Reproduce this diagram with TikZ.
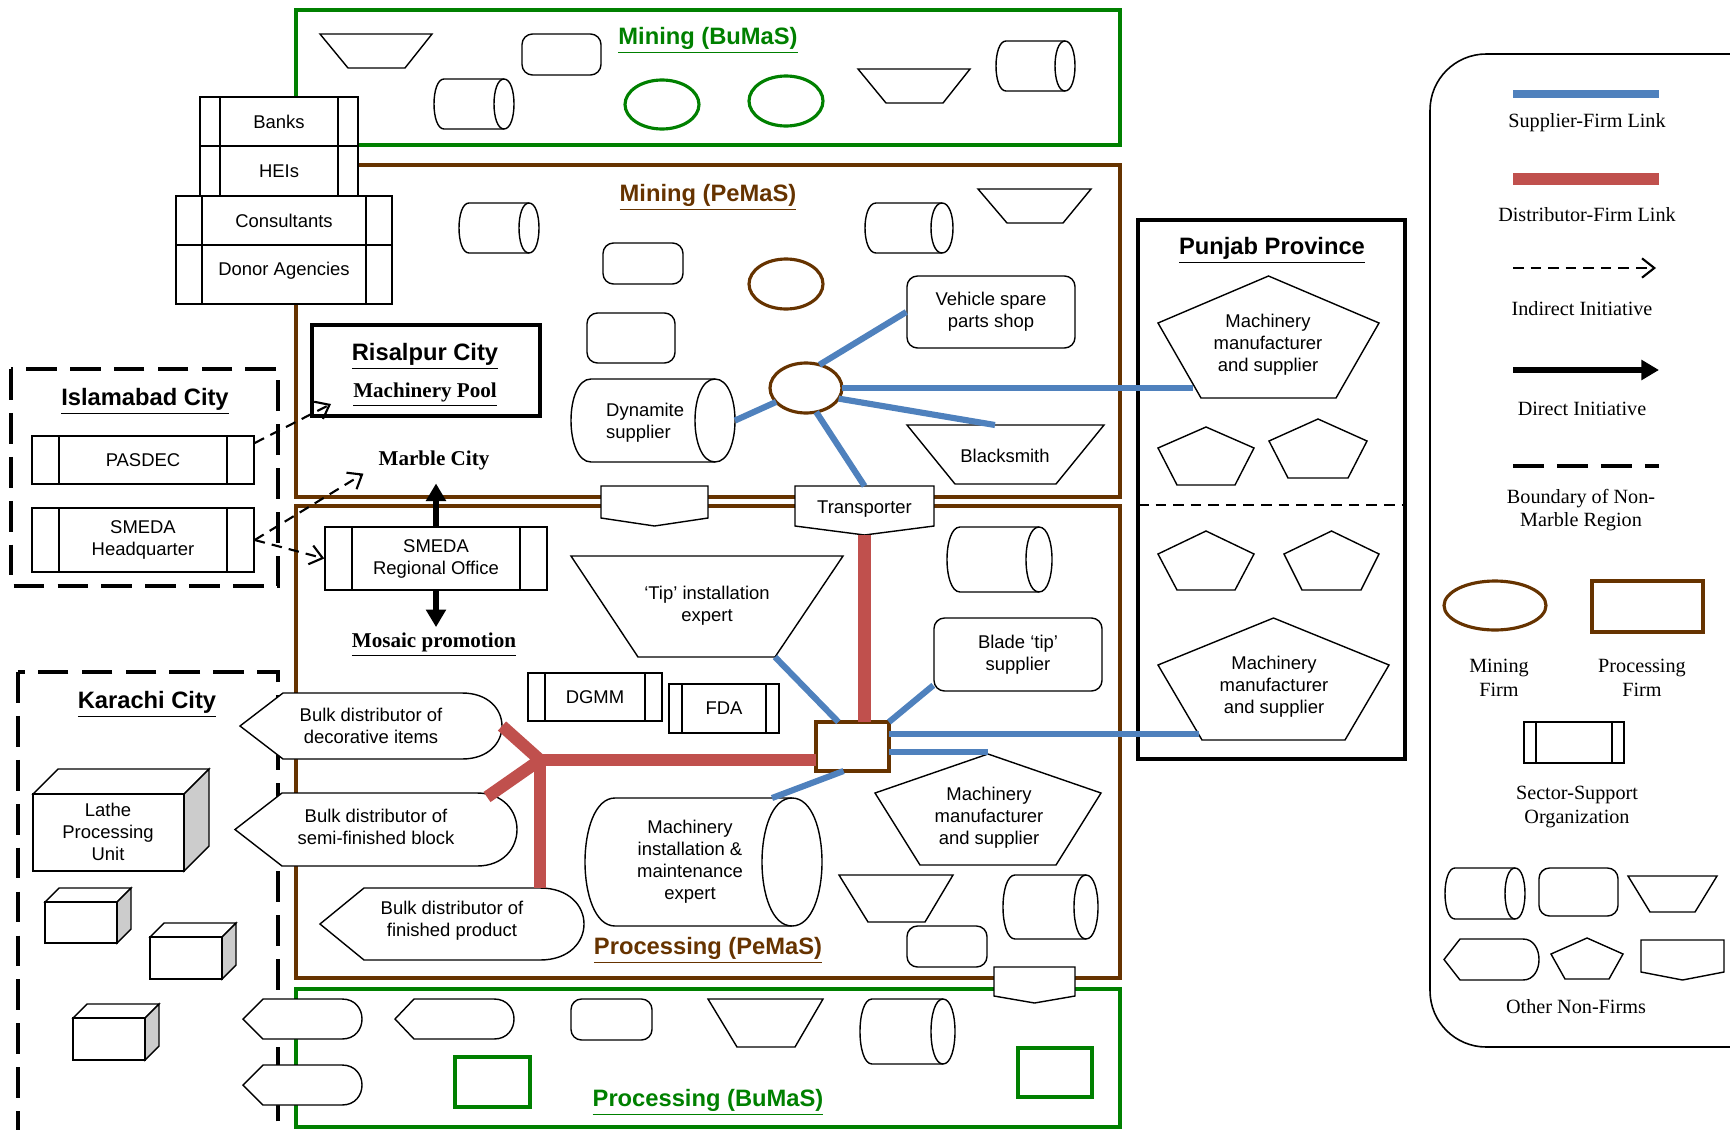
\documentclass[tikz,border=0pt]{standalone}
\usepackage{fontspec}
\setmainfont{Liberation Serif}
\setsansfont{Liberation Sans}
\usetikzlibrary{calc,arrows.meta,shapes.geometric}
\definecolor{bumas}{RGB}{0,128,0}
\definecolor{pemas}{RGB}{102,51,0}
\definecolor{linkblue}{RGB}{79,129,189}
\definecolor{linkred}{RGB}{192,80,77}
\definecolor{cubegray}{RGB}{204,204,204}
\tikzset{
  shp/.style={draw=black,line width=0.8pt,fill=white},
  hold/.style={inner sep=0pt,outer sep=0pt},
  lbl/.style={font=\sffamily\fontsize{10.5}{12.5}\selectfont,align=center},
  keytxt/.style={font=\fontsize{11.5}{13.5}\selectfont,align=center},
  ttl/.style={font=\sffamily\bfseries\fontsize{13.5}{16}\selectfont,yshift=-2.5pt},
  stxt/.style={font=\bfseries\fontsize{12}{14}\selectfont,yshift=-1.5pt},
  region/.style={line width=2pt},
  firm/.style={draw=pemas,line width=1.8pt},
  supl/.style={linkblue,line width=3.5pt},
  distl/.style={linkred,line width=7pt},
  indir/.style={line width=1.2pt,dash pattern=on 6pt off 4pt,-{Straight Barb[length=7pt,width=11pt]}},
  dirl/.style={line width=3.2pt,-{Triangle[length=10pt,width=11pt]}},
  nonmarble/.style={line width=2.2pt,dash pattern=on 17.5pt off 7.5pt},
}
% shapes: name, then corners in pixel units
\newcommand{\cylshape}[6]{%
  \draw[shp] ({#2+#6},#3) -- ({#4-#6},#3) .. controls ({#4+#6/3},#3) and ({#4+#6/3},#5) .. ({#4-#6},#5)
    -- ({#2+#6},#5) .. controls ({#2-#6/3},#5) and ({#2-#6/3},#3) .. ({#2+#6},#3) -- cycle;
  \draw[shp,fill=none] ({#4-#6},#3) .. controls ({#4-#6*7/3},#3) and ({#4-#6*7/3},#5) .. ({#4-#6},#5);
  \node[hold,minimum width={(#4-#2)*0.02cm},minimum height={(#5-#3)*0.02cm}] (#1) at ({(#2+#4)/2},{(#3+#5)/2}) {};}
\newcommand{\trapshape}[7]{%
  \draw[shp] (#2,#4) -- (#3,#4) -- (#6,#7) -- (#5,#7) -- cycle;
  \node[hold,minimum width={(#3-#2)*0.02cm},minimum height={(#7-#4)*0.02cm}] (#1) at ({(#2+#3)/2},{(#4+#7)/2}) {};}
\newcommand{\pentshape}[7]{%
  \draw[shp] ({(#2+#3)/2},#4) -- (#3,#5) -- ({#3-#6},#7) -- ({#2+#6},#7) -- (#2,#5) -- cycle;
  \node[hold,minimum width={(#3-#2)*0.02cm},minimum height={(#7-#4)*0.02cm}] (#1) at ({(#2+#3)/2},{(#4+#7)/2}) {};}
\newcommand{\dispshape}[7]{%
  \draw[shp] (#2,{(#5+#6)/2}) -- (#3,#5) -- ({#4-#7},#5) .. controls ({#4+#7/3},#5) and ({#4+#7/3},#6) .. ({#4-#7},#6) -- (#3,#6) -- cycle;
  \node[hold,minimum width={(#4-#2)*0.02cm},minimum height={(#6-#5)*0.02cm}] (#1) at ({(#2+#4)/2},{(#5+#6)/2}) {};}
\newcommand{\offshape}[6]{%
  \draw[shp] (#2,#4) -- (#3,#4) -- (#3,#5) -- ({(#2+#3)/2},#6) -- (#2,#5) -- cycle;
  \node[hold,minimum width={(#3-#2)*0.02cm},minimum height={(#6-#4)*0.02cm}] (#1) at ({(#2+#3)/2},{(#4+#6)/2}) {};}
\newcommand{\ssoshape}[7]{%
  \node[shp,lbl,inner sep=0pt,minimum width={(#4-#2)*0.02cm},minimum height={(#5-#3)*0.02cm}] (#1) at ({(#2+#4)/2},{(#3+#5)/2}) {#7};
  \draw[line width=0.8pt] ({#2+#6},#3) -- ({#2+#6},#5) ({#4-#6},#3) -- ({#4-#6},#5);}
\newcommand{\rndshape}[6]{%
  \node[shp,lbl,rounded corners=6pt,inner sep=0pt,minimum width={(#4-#2)*0.02cm},minimum height={(#5-#3)*0.02cm}] (#1) at ({(#2+#4)/2},{(#3+#5)/2}) {#6};}
\newcommand{\cubeshape}[6]{%
  \draw[shp] (#2,#3) -- ({#2+#6},{#3-#6}) -- ({#4+#6},{#3-#6}) -- (#4,#3) -- cycle;
  \draw[shp,fill=cubegray] (#4,#3) -- ({#4+#6},{#3-#6}) -- ({#4+#6},{#5-#6}) -- (#4,#5) -- cycle;
  \node[shp,hold,minimum width={(#4-#2)*0.02cm},minimum height={(#5-#3)*0.02cm}] (#1) at ({(#2+#4)/2},{(#3+#5)/2}) {};}

\begin{document}
\begin{tikzpicture}[x=0.02cm,y=-0.02cm]
\useasboundingbox (0,0) rectangle (1730,1129);
\clip (0,0) rectangle (1730,1129);

% non-marble cities
\draw[nonmarble] (11,369) rectangle (278,586);
\draw[nonmarble] (18,672) rectangle (278,1140);

% clusters
\draw[region,bumas] (296,10) rectangle (1120,145);
\draw[region,pemas] (296,165) rectangle (1120,497);
\draw[region,pemas] (296,506) rectangle (1120,978);
\draw[region,bumas] (296,989) rectangle (1120,1127);

% Punjab and key frames
\draw[line width=2.2pt] (1138,220) rectangle (1405,759);
\draw[line width=1pt,dash pattern=on 6pt off 4pt] (1138,505) -- (1405,505);
\draw[line width=0.9pt,rounded corners=32pt] (1430,54) rectangle (1800,1047);

% Mining (BuMaS)
\node[ttl,text=bumas] (minbu) at (708,36) {\underline{Mining (BuMaS)}};
\trapshape{bt1}{320}{432}{34}{348}{405}{68}
\rndshape{br1}{522}{34}{601}{75}{}
\cylshape{bc1}{434}{79}{514}{129}{10}
\node[draw=bumas,line width=1.8pt,ellipse,hold,minimum width=1.48cm,minimum height=0.98cm] (bm1) at (662,104.5) {};
\node[draw=bumas,line width=1.8pt,ellipse,hold,minimum width=1.48cm,minimum height=1cm] (bm2) at (786,101) {};
\trapshape{bt2}{858}{970}{69}{886}{943}{103}
\cylshape{bc2}{996}{41}{1075}{91}{10}

% Mining (PeMaS)
\node[ttl,text=pemas] (minpe) at (708,193) {\underline{Mining (PeMaS)}};
\cylshape{pc1}{459}{203}{539}{253}{10}
\rndshape{pr1}{603}{243}{683}{284}{}
\rndshape{pr2}{587}{313}{675}{363}{}
\node[firm,ellipse,hold,minimum width=1.48cm,minimum height=1cm] (pm1) at (786,284) {};
\cylshape{pc2}{865}{203}{953}{253}{11}
\trapshape{pt1}{978}{1091}{189}{1007}{1063}{223}
\rndshape{vsp}{907}{276}{1075}{348}{Vehicle spare\\parts shop}
\cylshape{dyn}{571}{379}{735}{462}{20}
\node[lbl,align=left,anchor=west] (dyntxt) at (600,423) {Dynamite\\supplier};
\trapshape{smith}{907}{1104}{425}{955}{1056}{484}
\node[lbl] (smithtxt) at (1005,456) {Blacksmith};
\node[firm,fill=white,ellipse,hold,minimum width=1.44cm,minimum height=1cm] (mfirm) at (806,388) {};
\offshape{op1}{601}{708}{486}{518}{526}
\offshape{trans}{795}{934}{486}{526}{535}
\node[lbl] (transtxt) at (864.5,509) {Transporter};

% support organizations
\ssoshape{banks}{200}{97}{358}{146}{20}{Banks}
\ssoshape{heis}{200}{146}{358}{196}{20}{HEIs}
\ssoshape{cons}{176}{196}{392}{245}{26}{Consultants}
\ssoshape{donor}{176}{245}{392}{304}{26}{\raisebox{6pt}{Donor Agencies}}

% Risalpur, Islamabad, SMEDA
\node[draw,line width=2.2pt,hold,minimum width=4.56cm,minimum height=1.82cm] (risal) at (426,370.5) {};
\node[ttl] (risaltxt) at (425,352) {\underline{Risalpur City}};
\node[stxt] (pool) at (425,392) {\underline{Machinery Pool}};
\node[ttl] (isb) at (145,397) {\underline{Islamabad City}};
\ssoshape{pasdec}{32}{436}{254}{484}{27}{PASDEC}
\ssoshape{smhq}{32}{508}{254}{572}{27}{SMEDA\\Headquarter}
\node[stxt] (marble) at (434,458) {Marble City};
\ssoshape{smro}{325}{527}{547}{590}{27}{SMEDA\\Regional Office}
\node[stxt] (mosaic) at (434,642) {\underline{Mosaic promotion}};

% Karachi
\node[ttl] (khi) at (147,700) {\underline{Karachi City}};
\cubeshape{lathe}{33}{794}{184}{871}{25}
\node[lbl] (lathetxt) at (108,832) {Lathe\\Processing\\Unit};
\cubeshape{cb1}{45}{902}{117}{943}{14}
\cubeshape{cb2}{150}{937}{222}{979}{14}
\cubeshape{cb3}{73}{1018}{145}{1060}{14}

% Processing (PeMaS)
\dispshape{deco}{240}{283}{502}{693}{759}{40}
\node[lbl] (decotxt) at (371,726) {Bulk distributor of\\decorative items};
\dispshape{semi}{235}{282}{517}{793}{866}{40}
\node[lbl] (semitxt) at (376,827) {Bulk distributor of\\semi-finished block};
\dispshape{fin}{320}{364}{584}{888}{960}{44}
\node[lbl] (fintxt) at (452,921) {Bulk distributor of\\finished product};
\cylshape{qc1}{947}{527}{1052}{592}{13}
\trapshape{tip}{571}{843}{556}{638}{775}{657}
\node[lbl] (tiptxt) at (707,606) {‘Tip’ installation\\expert};
\rndshape{blade}{934}{618}{1102}{691}{Blade ‘tip’\\supplier}
\ssoshape{dgmm}{528}{673}{662}{721}{17}{DGMM}
\ssoshape{fda}{669}{684}{779}{733}{13}{FDA}
\node[firm,fill=white,hold,minimum width=1.46cm,minimum height=0.98cm] (hub) at (852.5,746.5) {};
\cylshape{mie}{585}{798}{822}{926}{30}
\node[lbl] (mietxt) at (690,862) {Machinery\\installation \&\\maintenance\\expert};
\pentshape{mmb}{875}{1101}{754}{793}{45}{865}
\node[lbl] (mmbtxt) at (989,818) {Machinery\\manufacturer\\and supplier};
\trapshape{qt1}{839}{953}{875}{868}{925}{922}
\cylshape{qc2}{1003}{875}{1098}{939}{12}
\rndshape{qr1}{907}{926}{987}{967}{}
\offshape{op2}{994}{1075}{967}{996}{1003}
\node[ttl,text=pemas] (prope) at (708,946) {\underline{Processing (PeMaS)}};

% Processing (BuMaS)
\dispshape{bd1}{243}{263}{362}{999}{1039}{20}
\dispshape{bd2}{395}{414}{514}{999}{1039}{20}
\dispshape{bd3}{243}{263}{362}{1065}{1105}{20}
\rndshape{br2}{571}{999}{652}{1040}{}
\trapshape{bt3}{708}{823}{999}{737}{795}{1047}
\cylshape{bc3}{860}{999}{955}{1064}{12}
\draw[region,bumas] (455,1057) rectangle (530,1107);
\draw[region,bumas] (1018,1048) rectangle (1092,1097);
\node[ttl,text=bumas] (probu) at (708,1098) {\underline{Processing (BuMaS)}};

% Punjab
\node[ttl] (punjab) at (1272,246) {\underline{Punjab Province}};
\pentshape{pja}{1158}{1379}{276}{323}{43}{398}
\node[lbl] (pjatxt) at (1268,345) {Machinery\\manufacturer\\and supplier};
\pentshape{pjs1}{1158}{1254}{427}{448}{19}{485}
\pentshape{pjs2}{1269}{1367}{419}{441}{19}{478}
\pentshape{pjs3}{1158}{1254}{531}{554}{19}{590}
\pentshape{pjs4}{1284}{1379}{531}{554}{18}{590}
\pentshape{pjb}{1158}{1389}{618}{665}{44}{740}
\node[lbl] (pjbtxt) at (1274,687) {Machinery\\manufacturer\\and supplier};

% links
\coordinate (pjain) at (1193,388);
\coordinate (pjbin) at (1199,734);
\coordinate (mmbtop) at (988,752);
\coordinate (mietop) at (772,798);
\coordinate (semiin) at (487,797);
\coordinate (J) at (540,760);
\draw[supl] (mfirm.60) -- (vsp.west);
\draw[supl] (mfirm.east) -- (pjain);
\draw[supl] (mfirm.-18) -- ([xshift=-6pt]smith.north);
\draw[supl] (mfirm.-67) -- (trans.north);
\draw[supl] (dyn.east) -- (mfirm.205);
\draw[supl] ($(tip.south)!0.5!(tip.south east)$) -- (hub.120);
\draw[supl] (blade.200) -- (hub.north east);
\draw[supl] (pjbin -| hub.east) -- (pjbin);
\draw[supl] (mmbtop -| hub.east) -- (mmbtop);
\draw[supl] (hub.-110) -- (mietop);
\draw[distl] (trans.south) -- (trans.south |- hub.north);
\draw[distl] (J -| hub.west) -- (J);
\draw[distl] (J) -- (deco.east);
\draw[distl] (J) -- (semiin);
\draw[distl] (J) -- (J |- fin.north);

% initiatives
\draw[indir] ($(pasdec.east)+(0,-17)$) -- ($(risal.south west)+(19,-12)$);
\draw[indir] (smhq.east) -- ($(marble.west)+(-9,13)$);
\draw[indir] (smhq.east) -- (smro.west);
\draw[dirl,shorten >=4pt] (smro.north) -- (smro.north |- marble.south);
\draw[dirl] (smro.south) -- (smro.south |- mosaic.north);

% key
\draw[supl,line width=4pt] (1513,94) -- (1659,94);
\node[keytxt] (k1) at (1587,123) {Supplier-Firm Link};
\draw[distl] (1513,179) -- (1659,179);
\node[keytxt] (k2) at (1587,215) {Distributor-Firm Link};
\draw[indir] (1513,268) -- (1656,268);
\node[keytxt] (k3) at (1582,309) {Indirect Initiative};
\draw[dirl] (1513,370) -- (1659,370);
\node[keytxt] (k4) at (1582,409) {Direct Initiative};
\draw[nonmarble] (1513,466) -- (1659,466);
\node[keytxt] (k5) at (1581,510) {Boundary of Non-\\Marble Region};
\node[firm,ellipse,hold,minimum width=2.04cm,minimum height=0.98cm] (kmf) at (1495,605.5) {};
\draw[firm] (1592,581) rectangle (1703,632);
\node[keytxt] (k6) at (1499,678) {Mining\\Firm};
\node[keytxt] (k7) at (1642,678) {Processing\\Firm};
\ssoshape{kso}{1524}{722}{1624}{763}{12}{}
\node[keytxt] (k8) at (1577,807) {Sector-Support\\Organization};
\cylshape{kc}{1445}{868}{1525}{919}{10}
\rndshape{kr}{1539}{868}{1618}{916}{}
\trapshape{kt}{1628}{1717}{876}{1650}{1695}{912}
\dispshape{kd}{1444}{1460}{1539}{939}{980}{16}
\pentshape{kp}{1551}{1623}{938}{954}{14}{979}
\offshape{ko}{1641}{1724}{940}{972}{980}
\node[keytxt] (k9) at (1576,1007) {Other Non-Firms};
\end{tikzpicture}
\end{document}
